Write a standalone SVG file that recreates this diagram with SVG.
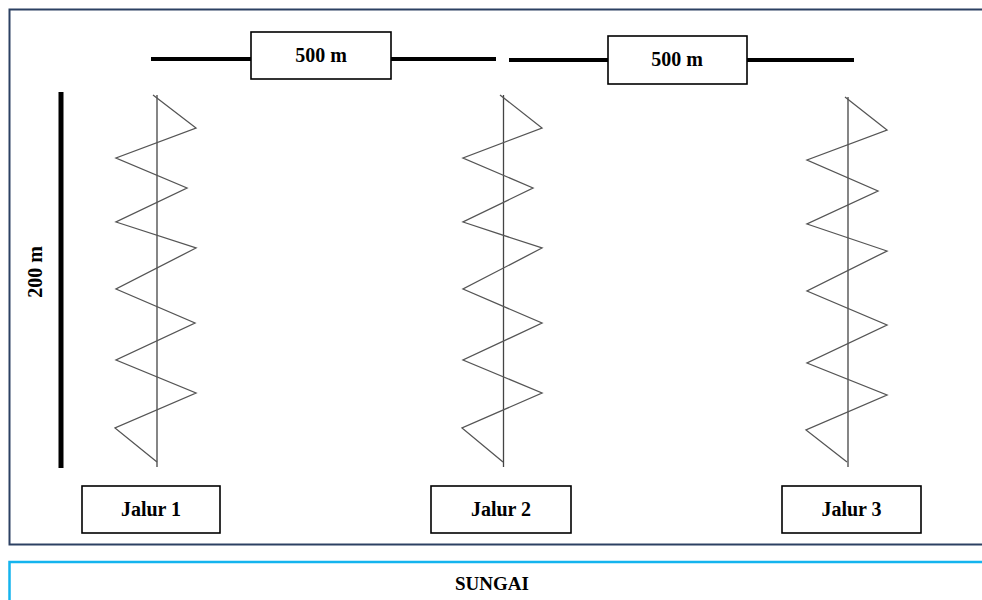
<svg xmlns="http://www.w3.org/2000/svg" width="982" height="600" viewBox="0 0 982 600">
<style>
.lbl{font-family:"Liberation Serif","Times New Roman",serif;font-weight:bold;font-size:20px;fill:#000;text-anchor:middle}
.box{fill:#fff;stroke:#000;stroke-width:1.6}
.bar{stroke:#000;stroke-width:4;fill:none}
.zig{fill:none;stroke:#555;stroke-width:1.3;stroke-linejoin:miter}
.axis{stroke:#444;stroke-width:1.3}
</style>
<rect width="982" height="600" fill="#fff"/>
<rect id="frame" x="9.5" y="9.5" width="990" height="535" fill="none" stroke="#2c4163" stroke-width="2"/>
<g id="sungai">
<rect x="9.5" y="562" width="990" height="60" fill="none" stroke="#14b4ee" stroke-width="2.5"/>
<text class="lbl" x="492" y="590" style="font-size:19px">SUNGAI</text>
</g>
<g id="connectors">
<line class="bar" x1="151" y1="59" x2="251" y2="59"/>
<line class="bar" x1="391" y1="59" x2="496" y2="59"/>
<line class="bar" x1="509" y1="60" x2="608" y2="60"/>
<line class="bar" x1="747" y1="60" x2="854" y2="60"/>
<line x1="61" y1="92" x2="61" y2="468" stroke="#000" stroke-width="5"/>
</g>
<g id="dist1">
<rect class="box" x="251" y="32" width="140" height="47"/>
<text class="lbl" x="321" y="62">500 m</text>
</g>
<g id="dist2">
<rect class="box" x="608" y="36" width="139" height="48"/>
<text class="lbl" x="677" y="66">500 m</text>
</g>
<g id="dist3">
<text class="lbl" transform="translate(42,272) rotate(-90)">200 m</text>
</g>
<g id="transect1">
<line class="axis" x1="157" y1="95" x2="157" y2="467"/>
<polyline class="zig" points="153,95 196,128 116,158 187,188 116,222 196,248 116,289 195,323 116,360 196,393 115,428 157,462"/>
</g>
<g id="transect2">
<line class="axis" x1="503.5" y1="95" x2="503.5" y2="467"/>
<polyline class="zig" points="500,95 542,128 463,158 533,188 463,222 542,248 463,289 542,323 463,360 542,393 462,428 503,462"/>
</g>
<g id="transect3">
<line class="axis" x1="848" y1="97" x2="848" y2="467"/>
<polyline class="zig" points="845,97 887,130 807,160 878,191 807,224 887,251 807,291 887,325 807,363 887,395 806,430 847,462"/>
</g>
<g id="jalur1">
<rect class="box" x="82" y="486" width="138" height="47"/>
<text class="lbl" x="151" y="516">Jalur 1</text>
</g>
<g id="jalur2">
<rect class="box" x="431" y="486" width="140" height="47"/>
<text class="lbl" x="501" y="516">Jalur 2</text>
</g>
<g id="jalur3">
<rect class="box" x="782" y="486" width="139" height="47"/>
<text class="lbl" x="851.5" y="516">Jalur 3</text>
</g>
</svg>
